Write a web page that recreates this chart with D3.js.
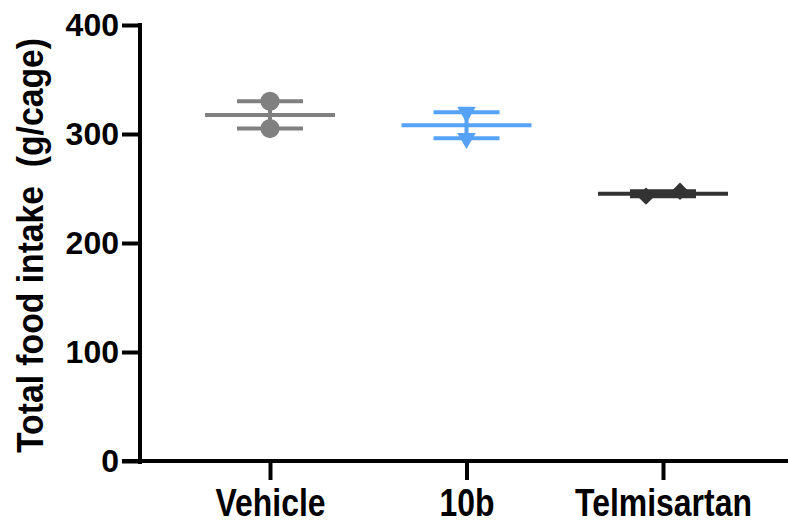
<!DOCTYPE html>
<html>
<head>
<meta charset="utf-8">
<script src="https://cdn.jsdelivr.net/npm/d3@7"></script>
<style>
  body { margin: 0; background: #fff; }
  svg { display: block; font-family: "Liberation Sans", Arial, sans-serif; font-weight: bold; }
</style>
</head>
<body>
<svg width="788" height="525"></svg>
<script>
// data
const groups = ["Vehicle", "10b", "Telmisartan"];
const vehicleValues = [330, 305];
const tenBValues = [320, 296];
const telmisartanValues = [243, 247.5];
const yTicks = [0, 100, 200, 300, 400];
const yLabel = "Total food intake  (g/cage)";

const seriesValues = [vehicleValues, tenBValues, telmisartanValues];
const colors = ["#808080", "#55a2f6", "#333333"];
const symbols = ["circle", "triangleDown", "diamond"];

const svg = d3.select("svg");

const x = d3.scalePoint().domain(groups).range([270, 663]);
const y = d3.scaleLinear().domain([0, 400]).range([461, 25]);

const axisStroke = 4;

// y axis
const yAxis = svg.append("g")
    .attr("transform", "translate(140,0)")
    .call(d3.axisLeft(y).tickValues(yTicks).tickSize(18).tickSizeOuter(0).tickPadding(3));
yAxis.select(".domain").remove();
yAxis.selectAll(".tick line").attr("stroke", "#000").attr("stroke-width", axisStroke);
yAxis.selectAll(".tick text")
    .attr("fill", "#000")
    .style("font-size", "32px")
    .style("font-weight", "bold")
    .style("font-family", "Liberation Sans, Arial, sans-serif");
yAxis.append("line")
    .attr("x1", 0).attr("x2", 0)
    .attr("y1", y(400) - axisStroke / 2).attr("y2", y(0) + 3)
    .attr("stroke", "#000").attr("stroke-width", axisStroke);

// x axis
const xAxis = svg.append("g")
    .attr("transform", `translate(0,${y(0)})`)
    .call(d3.axisBottom(x).tickSize(19).tickSizeOuter(0).tickPadding(9));
xAxis.select(".domain").remove();
xAxis.selectAll(".tick line").attr("stroke", "#000").attr("stroke-width", axisStroke);
xAxis.selectAll(".tick text")
    .attr("fill", "#000")
    .attr("dy", "0")
    .attr("y", 55)
    .style("font-size", "38px")
    .style("font-weight", "bold")
    .style("font-family", "Liberation Sans, Arial, sans-serif")
    .each(function () {
        // labels in the figure are horizontally condensed
        const w = this.getComputedTextLength();
        d3.select(this).attr("textLength", w * 0.84).attr("lengthAdjust", "spacingAndGlyphs");
    });
xAxis.append("line")
    .attr("x1", 122).attr("x2", 788)
    .attr("y1", 0).attr("y2", 0)
    .attr("stroke", "#000").attr("stroke-width", axisStroke);

// y axis title
svg.append("text")
    .attr("transform", `translate(43,${(453 + 38) / 2}) rotate(-90)`)
    .attr("text-anchor", "middle")
    .attr("textLength", 415)
    .attr("lengthAdjust", "spacingAndGlyphs")
    .style("font-size", "36px")
    .style("white-space", "pre")
    .attr("fill", "#000")
    .text(yLabel);

// markers
function symbolPath(kind) {
    if (kind === "circle") return d3.symbol(d3.symbolCircle, 290)();
    if (kind === "triangleDown") return d3.symbol(d3.symbolTriangle, 150)();
    return d3.symbol(d3.symbolSquare, 150)();
}
function symbolRotate(kind) {
    if (kind === "triangleDown") return 180;
    if (kind === "diamond") return 45;
    return 0;
}

const plot = svg.append("g");

seriesValues.forEach((vals, gi) => {
    const cx = x(groups[gi]);
    const color = colors[gi];
    const mean = d3.mean(vals);
    const sem = d3.deviation(vals) / Math.sqrt(vals.length);

    // spread points sideways when they would overlap
    const overlap = d3.max(vals) - d3.min(vals) < 8;
    const jitter = overlap ? 34 : 0;

    const g = plot.append("g");

    g.selectAll("path.pt")
        .data(vals)
        .join("path")
        .attr("class", "pt")
        .attr("d", symbolPath(symbols[gi]))
        .attr("transform", (d, i) =>
            `translate(${cx + (i - (vals.length - 1) / 2) * jitter},${y(d)}) rotate(${symbolRotate(symbols[gi])})`)
        .attr("fill", color);

    // mean line
    g.append("line")
        .attr("x1", cx - 65).attr("x2", cx + 65)
        .attr("y1", y(mean)).attr("y2", y(mean))
        .attr("stroke", color).attr("stroke-width", 4);

    // SEM bar
    g.append("line")
        .attr("x1", cx).attr("x2", cx)
        .attr("y1", y(mean + sem)).attr("y2", y(mean - sem))
        .attr("stroke", color).attr("stroke-width", 4);

    g.selectAll("line.cap")
        .data([mean + sem, mean - sem])
        .join("line")
        .attr("class", "cap")
        .attr("x1", cx - 33).attr("x2", cx + 33)
        .attr("y1", d => y(d)).attr("y2", d => y(d))
        .attr("stroke", color).attr("stroke-width", 4);
});
</script>
</body>
</html>
